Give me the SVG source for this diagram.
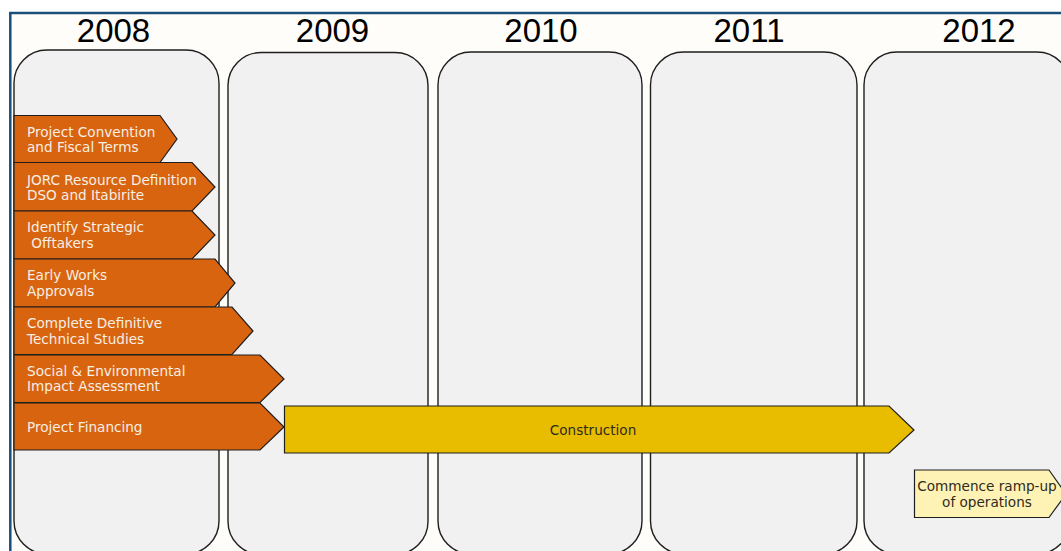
<svg xmlns="http://www.w3.org/2000/svg" width="1061" height="551" viewBox="0 0 1061 551">
<style>
.col{fill:#f1f1f1;stroke:#1e1e1e;stroke-width:1.4}
.yr{font-family:"Liberation Sans",Arial,sans-serif;font-size:33px;fill:#000;text-anchor:middle}
.task{fill:#d9640f;stroke:#1e1e1e;stroke-width:1.2}
.tt{font-family:"DejaVu Sans",Verdana,sans-serif;font-size:13.6px;fill:#f6efe6}
.con{fill:#e8bd00;stroke:#1e1e1e;stroke-width:1.2}
.ramp{fill:#fff2b5;stroke:#1e1e1e;stroke-width:1.2}
.dt{font-family:"DejaVu Sans",Verdana,sans-serif;font-size:13.6px;fill:#2e2a20;text-anchor:middle}
</style>
<rect x="0" y="0" width="1061" height="551" fill="#ffffff"/>
<rect x="10.3" y="13" width="1070" height="560" fill="#fefdf9" stroke="#1b4f7a" stroke-width="2.5"/>
<g id="col-2008"><rect class="col" x="14" y="50" width="205" height="504" rx="33" ry="33"/><text class="yr" x="113.5" y="42">2008</text></g>
<g id="col-2009"><rect class="col" x="228" y="52.5" width="200" height="502" rx="33" ry="33"/><text class="yr" x="332.5" y="42">2009</text></g>
<g id="col-2010"><rect class="col" x="438" y="52" width="204" height="502" rx="33" ry="33"/><text class="yr" x="541" y="42">2010</text></g>
<g id="col-2011"><rect class="col" x="650.5" y="52" width="206.5" height="502" rx="33" ry="33"/><text class="yr" x="749" y="42">2011</text></g>
<g id="col-2012"><rect class="col" x="864" y="52" width="206" height="502" rx="33" ry="33"/><text class="yr" x="979" y="42">2012</text></g>
<g id="connectors"></g>
<g id="t1"><path class="task" d="M14 115.5H160L177 139L160 162.5H14Z"/><text class="tt" x="27" y="136.5">Project Convention</text><text class="tt" x="27" y="152">and Fiscal Terms</text></g>
<g id="t2"><path class="task" d="M14 162.5H192L215 187L192 211H14Z"/><text class="tt" x="27" y="184.5">JORC Resource Definition</text><text class="tt" x="27" y="200">DSO and Itabirite</text></g>
<g id="t3"><path class="task" d="M14 211H192L215 235L192 259H14Z"/><text class="tt" x="27" y="232">Identify Strategic</text><text class="tt" x="27" y="248" xml:space="preserve"> Offtakers</text></g>
<g id="t4"><path class="task" d="M14 259H215L235 283L215 307H14Z"/><text class="tt" x="27" y="280">Early Works</text><text class="tt" x="27" y="296">Approvals</text></g>
<g id="t5"><path class="task" d="M14 307H232L253 331L232 354.5H14Z"/><text class="tt" x="27" y="327.5">Complete Definitive</text><text class="tt" x="27" y="343.5">Technical Studies</text></g>
<g id="t6"><path class="task" d="M14 355H260L284 379L260 402.5H14Z"/><text class="tt" x="27" y="375.5">Social &amp; Environmental</text><text class="tt" x="27" y="391">Impact Assessment</text></g>
<g id="t7"><path class="task" d="M14 403H260L284 427L260 450H14Z"/><text class="tt" x="27" y="431.5">Project Financing</text></g>
<g id="construction"><path class="con" d="M284.5 406H889L914 430L889 453H284.5Z"/><text class="dt" x="593" y="435">Construction</text></g>
<g id="ramp"><path class="ramp" d="M914.5 470H1049L1066 494L1049 517.5H914.5Z"/><text class="dt" x="987" y="491">Commence ramp-up</text><text class="dt" x="987" y="506.5">of operations</text></g>
</svg>
